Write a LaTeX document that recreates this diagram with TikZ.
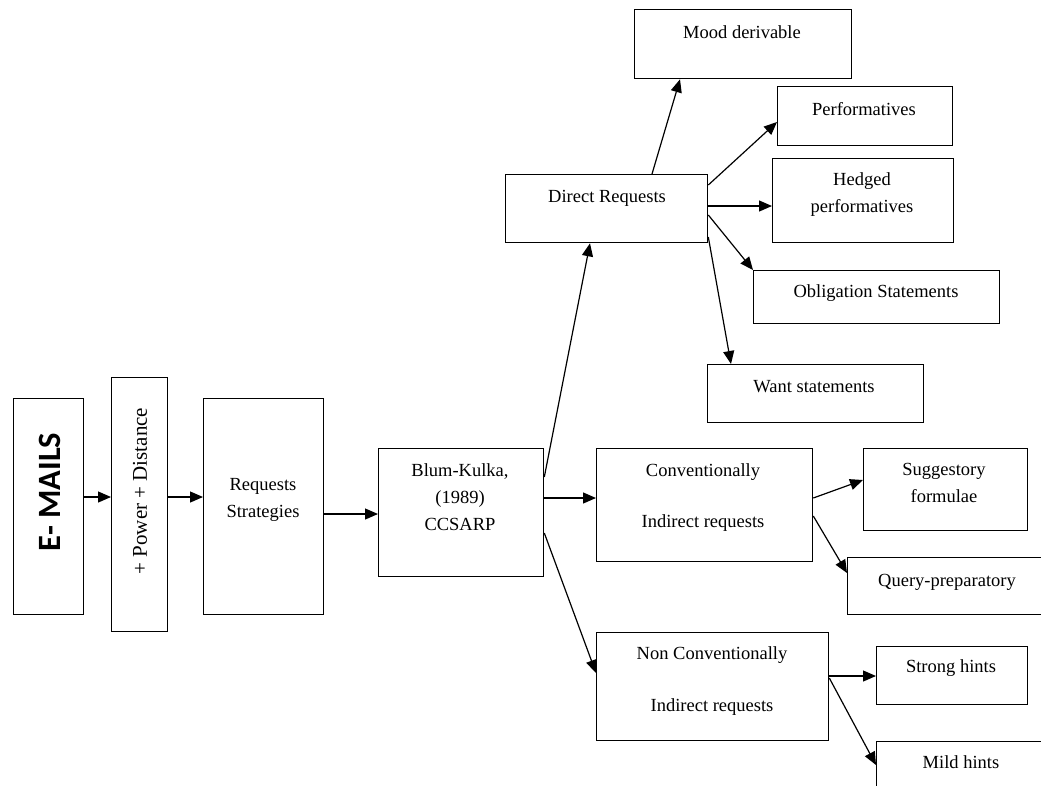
\documentclass[tikz,border=0pt]{standalone}
\usepackage{fontspec}
\setmainfont{Liberation Serif}
\newfontfamily\calib{Carlito}
\usetikzlibrary{arrows.meta}
\begin{document}
\begin{tikzpicture}[x=1pt,y=-1pt,
  box/.style={draw, line width=1.3pt, inner sep=0pt, anchor=north west},
  txt/.style={inner sep=0pt, align=center, font=\fontsize{18.5}{27}\selectfont},
  arr/.style={line width=1.2pt, -{Triangle[length=13pt,width=11pt]}}]
\useasboundingbox (0,0) rectangle (1041,785);
% boxes
\node[box, minimum width=70pt,  minimum height=216pt] (em) at (13,398) {};
\node[box, minimum width=56pt,  minimum height=254pt] (pd) at (111,377) {};
\node[box, minimum width=120pt, minimum height=216pt] (rs) at (203,398) {};
\node[box, minimum width=165pt, minimum height=128pt] (bk) at (378,448) {};
\node[box, minimum width=202pt, minimum height=68pt]  (dr) at (505,174) {};
\node[box, minimum width=217pt, minimum height=69pt]  (md) at (634,9) {};
\node[box, minimum width=175pt, minimum height=59pt]  (pf) at (777,86) {};
\node[box, minimum width=181pt, minimum height=84pt]  (hp) at (772,158) {};
\node[box, minimum width=246pt, minimum height=53pt]  (os) at (753,270) {};
\node[box, minimum width=216pt, minimum height=58pt]  (ws) at (707,364) {};
\node[box, minimum width=216pt, minimum height=113pt] (ci) at (596,448) {};
\node[box, minimum width=164pt, minimum height=82pt]  (sf) at (863,448) {};
\node[box, minimum width=213pt, minimum height=57pt]  (qp) at (847,557) {};
\node[box, minimum width=232pt, minimum height=108pt] (ni) at (596,632) {};
\node[box, minimum width=151pt, minimum height=58pt]  (sh) at (876,646) {};
\node[box, minimum width=184pt, minimum height=59pt]  (mh) at (876,741) {};
% texts
\node[inner sep=0pt, rotate=90, font=\calib\bfseries\fontsize{32.5}{33}\selectfont] (emt) at (50,492) {E- MAILS};
\node[txt, rotate=90, font=\fontsize{21}{25}\selectfont] (pdt) at (140,491) {+ Power + Distance};
\node[txt] (rst) at (263,500) {Requests\\Strategies};
\node[txt] (bkt) at (460,497) {Blum-Kulka,\\(1989)\\CCSARP};
\node[txt] (drt) at (607,198) {Direct Requests};
\node[txt] (mdt) at (742,32) {Mood derivable};
\node[txt] (pft) at (864,109) {Performatives};
\node[txt] (hpt) at (862,195) {Hedged\\performatives};
\node[txt] (ost) at (876,293) {Obligation Statements};
\node[txt] (wst) at (814,387) {Want statements};
\node[txt] (cia) at (703,472) {Conventionally};
\node[txt] (cib) at (703,523) {Indirect requests};
\node[txt] (sft) at (944,483) {Suggestory\\formulae};
\node[txt] (qpt) at (947,582) {Query-preparatory};
\node[txt] (nia) at (712,655) {Non Conventionally};
\node[txt] (nib) at (712,707) {Indirect requests};
\node[txt] (sht) at (951,668) {Strong hints};
\node[txt] (mht) at (961,762) {Mild hints};
% arrows
\draw[arr] ([yshift=-99pt]em.north east) -- ([yshift=-120pt]pd.north west);
\draw[arr] ([yshift=-120pt]pd.north east) -- ([yshift=-99pt]rs.north west);
\draw[arr] ([yshift=-116pt]rs.north east) -- ([yshift=-66pt]bk.north west);
\draw[arr] ([yshift=-29pt]bk.north east) -- ([xshift=85pt]dr.south west);
\draw[arr] ([yshift=-50pt]bk.north east) -- ([yshift=-50pt]ci.north west);
\draw[arr] ([yshift=-85pt]bk.north east) -- ([yshift=-41pt]ni.north west);
\draw[arr] ([xshift=147pt]dr.north west) -- ([xshift=46pt]md.south west);
\draw[arr] ([yshift=-11pt]dr.north east) -- ([yshift=-36pt]pf.north west);
\draw[arr] ([yshift=-32pt]dr.north east) -- ([yshift=-48pt]hp.north west);
\draw[arr] ([yshift=-41pt]dr.north east) -- (os.north west);
\draw[arr] ([yshift=-63pt]dr.north east) -- ([xshift=24pt]ws.north west);
\draw[arr] ([yshift=-50pt]ci.north east) -- ([yshift=-32pt]sf.north west);
\draw[arr] ([yshift=-68pt]ci.north east) -- ([yshift=-16pt]qp.north west);
\draw[arr] ([yshift=-44pt]ni.north east) -- ([yshift=-30pt]sh.north west);
\draw[arr] ([yshift=-46pt]ni.north east) -- ([yshift=-24pt]mh.north west);
\end{tikzpicture}
\end{document}
